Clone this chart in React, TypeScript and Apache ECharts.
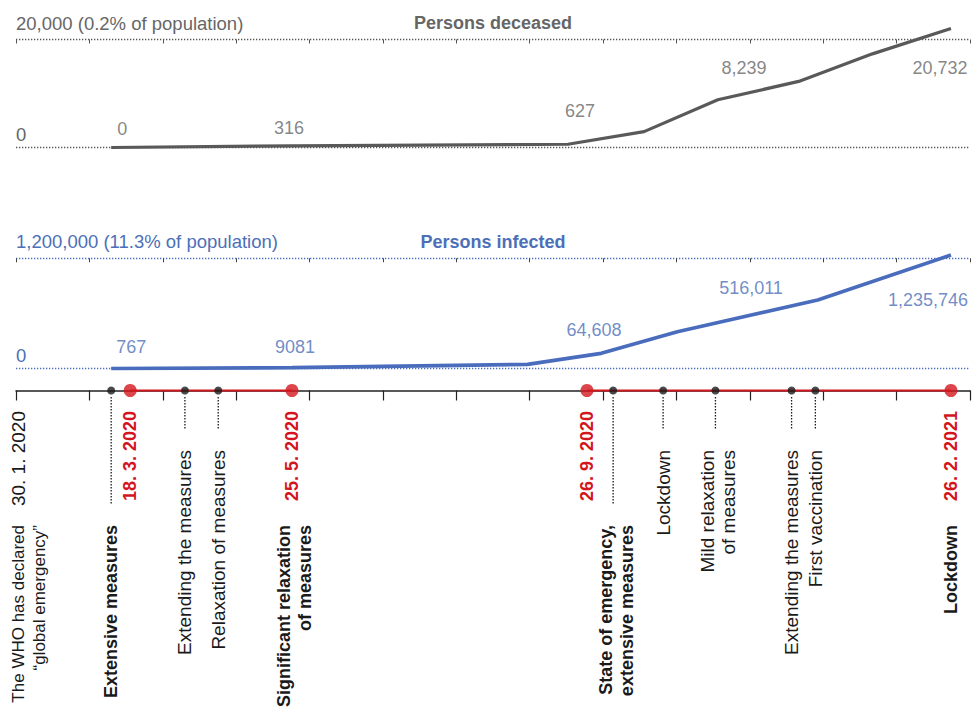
import React, { useEffect, useRef } from "react";
import * as echarts from "echarts";

// ---------- data ----------
const START_DATE = "2020-01-30";
const AXIS_DAYS = 401; // length of the time axis in days from START_DATE
const TICK_STEPS = 13;

const deceasedDates = ["2020-03-10", "2020-05-25", "2020-09-18", "2020-10-20", "2020-11-20", "2020-12-24", "2021-01-24", "2021-02-26"];
const deceasedValues = [0, 316, 600, 2940, 8840, 12240, 17340, 22050];
const deceasedMax = 20000;
const deceasedMaxLabel = "20,000 (0.2% of population)";

const infectedDates = ["2020-03-10", "2020-05-25", "2020-09-01", "2020-10-02", "2020-11-03", "2021-01-01", "2021-02-26"];
const infectedValues = [0, 9081, 45000, 165000, 400000, 746000, 1235746];
const infectedMax = 1200000;
const infectedMaxLabel = "1,200,000 (11.3% of population)";

const labelDates = ["2020-03-18", "2020-05-25", "2020-09-26", "2020-12-01", "2021-02-26"];
const deceasedLabelValues = [0, 316, 627, 8239, 20732];
const deceasedLabelTexts = ["0", "316", "627", "8,239", "20,732"];
const infectedLabelValues = [767, 9081, 64608, 516011, 1235746];
const infectedLabelTexts = ["767", "9081", "64,608", "516,011", "1,235,746"];

const milestoneDates = ["2020-03-18", "2020-05-25", "2020-09-26", "2021-02-26"];
const milestoneTexts = ["18. 3. 2020", "25. 5. 2020", "26. 9. 2020", "26. 2. 2021"];
const milestoneNotes = ["", "Significant relaxation\nof measures", "", "Lockdown"];
const periodStarts = ["2020-03-18", "2020-09-26"];
const periodEnds = ["2020-05-25", "2021-02-26"];

const eventDates = ["2020-03-10", "2020-04-10", "2020-04-24", "2020-10-07", "2020-10-28", "2020-11-19", "2020-12-21", "2020-12-31"];
const eventTexts = [
  "Extensive measures",
  "Extending the measures",
  "Relaxation of measures",
  "State of emergency,\nextensive measures",
  "Lockdown",
  "Mild relaxation\nof measures",
  "Extending the measures",
  "First vaccination",
];
const eventKinds = ["major", "minor", "minor", "major", "minor", "minor", "minor", "minor"];

const startText = "30. 1. 2020";
const startNote = "The WHO has declared\n\u201Cglobal emergency\u201D";

// ---------- styles ----------
const FONT = '"Liberation Sans", Arial, Helvetica, sans-serif';
const GRAY_TEXT = "#666666";
const GRAY_LINE = "#595959";
const GRAY_DOT = "#555555";
const BLUE_TEXT = "#4d6fb8";
const BLUE_LINE = "#4a6cbd";
const RED = "#d3161e";
const BLACK = "#1a1a1a";

const deceasedLabelOffsets = [[-8, -19], [-3, -18], [-7, -33], [0, -35], [-11, 32]];
const infectedLabelOffsets = [[1, -21], [3, -21], [7, -33], [7, -33], [-23, 45]];

function dayOf(s: string): number {
  const [y, m, d] = s.split("-").map(Number);
  const [y0, m0, d0] = START_DATE.split("-").map(Number);
  return Math.round((Date.UTC(y, m - 1, d) - Date.UTC(y0, m0 - 1, d0)) / 86400000);
}

type TextOpts = {
  top: number;
  dx?: number;
  color: string;
  bold?: boolean;
  size?: number;
  lineTo?: number;
};

function textSeries(dates: string[], texts: string[], optsFor: (i: number) => TextOpts | null): any {
  return {
    type: "custom",
    xAxisIndex: 2,
    yAxisIndex: 2,
    silent: true,
    z: 8,
    clip: false,
    data: dates.map((d, i) => [dayOf(d), 0, i]),
    renderItem: (params: any, api: any) => {
      const i = api.value(2) as number;
      const o = optsFor(i);
      if (!o || !texts[i]) return { type: "group", children: [] };
      const p = api.coord([api.value(0), 0]);
      const children: any[] = [];
      if (o.lineTo) {
        children.push({
          type: "line",
          shape: { x1: p[0], y1: p[1] + 6.5, x2: p[0], y2: p[1] + o.lineTo },
          style: { stroke: BLACK, lineWidth: 1.3, lineDash: [1.4, 1.6] },
        });
      }
      const multi = texts[i].indexOf("\n") >= 0;
      children.push({
        type: "text",
        x: p[0] + (o.dx ?? (multi ? 3 : 0)),
        y: p[1] + o.top,
        rotation: Math.PI / 2,
        style: {
          text: texts[i],
          fill: o.color,
          fontSize: o.size ?? (o.bold ? 18 : 19),
          fontWeight: o.bold ? "bold" : "normal",
          fontFamily: FONT,
          align: "right",
          textAlign: "right",
          verticalAlign: "middle",
          textVerticalAlign: "middle",
          lineHeight: 21,
        },
      });
      return { type: "group", children };
    },
  };
}

export default function App() {
  const ref = useRef<HTMLDivElement>(null);

  useEffect(() => {
    if (!ref.current) return;
    const chart = echarts.init(ref.current, undefined, { renderer: "svg" });

    const xBase = {
      type: "value",
      min: 0,
      max: AXIS_DAYS,
      interval: AXIS_DAYS / TICK_STEPS,
      axisLabel: { show: false },
      splitLine: { show: false },
    };

    const yLabel = (color: string, max: number, maxLabel: string) => ({
      inside: true,
      margin: 0,
      align: "left",
      verticalAlign: "bottom",
      padding: [0, 0, 4, 0],
      color,
      fontSize: 18.5,
      fontFamily: FONT,
      formatter: (v: number) => (v === max ? `{m|${maxLabel}}\n{s| }` : String(v)),
      rich: {
        m: { color, fontSize: 18.5, fontFamily: FONT },
        s: { fontSize: 2, lineHeight: 3 },
      },
    });

    const option: any = {
      animation: false,
      grid: [
        { left: 16, right: 2, top: 39.5, height: 108 },
        { left: 16, right: 2, top: 258.3, height: 110.2 },
        { left: 16, right: 2, top: 380.5, height: 20 },
      ],
      xAxis: [
        {
          ...xBase,
          gridIndex: 0,
          position: "top",
          axisLine: { show: false, onZero: false },
          axisTick: { show: true, inside: true, length: 4, lineStyle: { color: GRAY_DOT, width: 1 } },
        },
        {
          ...xBase,
          gridIndex: 1,
          position: "top",
          axisLine: { show: false, onZero: false },
          axisTick: { show: true, inside: true, length: 4, lineStyle: { color: "#444", width: 1 } },
        },
        {
          ...xBase,
          gridIndex: 2,
          position: "bottom",
          axisLine: { show: true, onZero: true, lineStyle: { color: "#222", width: 1.5 } },
          axisTick: { show: true, length: 10, lineStyle: { color: "#222", width: 1.2 } },
        },
      ],
      yAxis: [
        {
          type: "value",
          gridIndex: 0,
          min: 0,
          max: deceasedMax,
          interval: deceasedMax,
          axisLine: { show: false },
          axisTick: { show: false },
          splitLine: { show: true, lineStyle: { color: GRAY_DOT, width: 1.3, type: [1.3, 1.7] } },
          axisLabel: yLabel(GRAY_TEXT, deceasedMax, deceasedMaxLabel),
        },
        {
          type: "value",
          gridIndex: 1,
          min: 0,
          max: infectedMax,
          interval: infectedMax,
          axisLine: { show: false },
          axisTick: { show: false },
          splitLine: { show: true, lineStyle: { color: BLUE_LINE, width: 1.3, type: [1.3, 1.7] } },
          axisLabel: yLabel(BLUE_TEXT, infectedMax, infectedMaxLabel),
        },
        {
          type: "value",
          gridIndex: 2,
          min: -1,
          max: 1,
          axisLine: { show: false },
          axisTick: { show: false },
          axisLabel: { show: false },
          splitLine: { show: false },
        },
      ],
      graphic: [
        {
          type: "text",
          x: 493,
          y: 23,
          style: {
            text: "Persons deceased",
            fill: GRAY_TEXT,
            fontSize: 18,
            fontWeight: "bold",
            fontFamily: FONT,
            align: "center",
            verticalAlign: "middle",
          },
        },
        {
          type: "text",
          x: 493,
          y: 242,
          style: {
            text: "Persons infected",
            fill: BLUE_TEXT,
            fontSize: 18,
            fontWeight: "bold",
            fontFamily: FONT,
            align: "center",
            verticalAlign: "middle",
          },
        },
      ],
      series: [
        {
          type: "line",
          xAxisIndex: 0,
          yAxisIndex: 0,
          clip: false,
          data: deceasedDates.map((d, i) => [dayOf(d), deceasedValues[i]]),
          symbol: "none",
          lineStyle: { color: GRAY_LINE, width: 3.2 },
          z: 3,
        },
        {
          type: "scatter",
          xAxisIndex: 0,
          yAxisIndex: 0,
          clip: false,
          symbolSize: 1,
          itemStyle: { color: "transparent" },
          silent: true,
          z: 4,
          data: labelDates.map((d, i) => ({
            value: [dayOf(d), deceasedLabelValues[i]],
            label: { offset: deceasedLabelOffsets[i] },
          })),
          label: {
            show: true,
            position: "inside",
            color: GRAY_TEXT,
            fontSize: 18,
            fontFamily: FONT,
            formatter: (p: any) => deceasedLabelTexts[p.dataIndex],
          },
        },
        {
          type: "line",
          xAxisIndex: 1,
          yAxisIndex: 1,
          clip: false,
          data: infectedDates.map((d, i) => [dayOf(d), infectedValues[i]]),
          symbol: "none",
          lineStyle: { color: BLUE_LINE, width: 3.6 },
          z: 3,
        },
        {
          type: "scatter",
          xAxisIndex: 1,
          yAxisIndex: 1,
          clip: false,
          symbolSize: 1,
          itemStyle: { color: "transparent" },
          silent: true,
          z: 4,
          data: labelDates.map((d, i) => ({
            value: [dayOf(d), infectedLabelValues[i]],
            label: { offset: infectedLabelOffsets[i] },
          })),
          label: {
            show: true,
            position: "inside",
            color: BLUE_TEXT,
            fontSize: 18,
            fontFamily: FONT,
            formatter: (p: any) => infectedLabelTexts[p.dataIndex],
          },
        },
        ...periodStarts.map((s, i) => ({
          type: "line",
          xAxisIndex: 2,
          yAxisIndex: 2,
          data: [
            [dayOf(s), 0],
            [dayOf(periodEnds[i]), 0],
          ],
          symbol: "none",
          lineStyle: { color: RED, width: 2 },
          z: 4,
          silent: true,
        })),
        {
          type: "scatter",
          xAxisIndex: 2,
          yAxisIndex: 2,
          symbolSize: 13,
          itemStyle: { color: RED },
          data: milestoneDates.map((d) => [dayOf(d), 0]),
          z: 6,
          silent: true,
        },
        {
          type: "scatter",
          xAxisIndex: 2,
          yAxisIndex: 2,
          symbolSize: 8,
          itemStyle: { color: BLACK },
          data: eventDates.map((d) => [dayOf(d), 0]),
          z: 7,
          silent: true,
        },
        // milestone date labels
        textSeries(milestoneDates, milestoneTexts, () => ({ top: 20.5, color: RED, bold: true })),
        // milestone notes
        textSeries(milestoneDates, milestoneNotes, () => ({ top: 134.5, color: BLACK, bold: true })),
        // event labels with dotted leaders
        textSeries(eventDates, eventTexts, (i) =>
          eventKinds[i] === "major"
            ? { top: 134.5, color: BLACK, bold: true, lineTo: 114.5 }
            : { top: 59.5, color: BLACK, bold: false, lineTo: 39.5 }
        ),
        // start of the axis
        textSeries([START_DATE], [startText], () => ({ top: 20.5, dx: 2.5, color: BLACK, bold: false })),
        textSeries([START_DATE], [startNote], () => ({ top: 134.5, dx: 13, color: BLACK, bold: false, size: 17 })),
      ],
    };

    chart.setOption(option);
    return () => chart.dispose();
  }, []);

  return (
    <div
      ref={ref}
      style={{ position: "absolute", left: 0, top: 0, width: 972, height: 716, background: "#ffffff" }}
    />
  );
}
